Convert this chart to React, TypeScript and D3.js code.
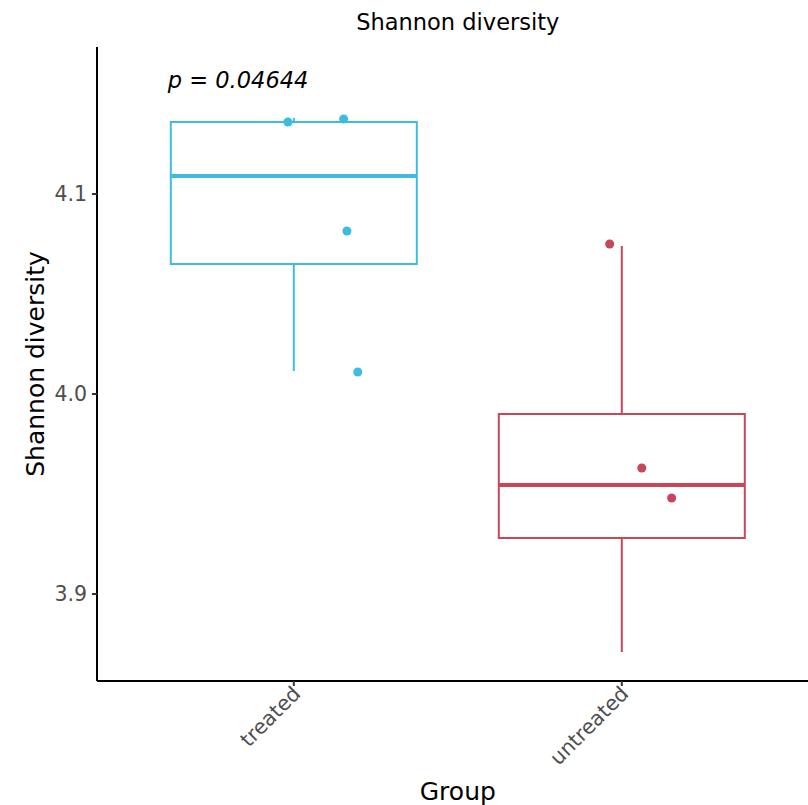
import * as d3 from "d3";

const groups = ["treated", "untreated"];
const colors = ["#3BBDE0", "#C8465A"];

// box statistics
const q1 = [4.065, 3.928];
const medians = [4.109, 3.9545];
const q3 = [4.136, 3.99];
const whiskerLow = [4.0115, 3.871];
const whiskerHigh = [4.138, 4.074];

// jittered points: group index, horizontal jitter (in category units), value
const pointGroup = [0, 0, 0, 0, 1, 1, 1];
const pointJitter = [-0.018, 0.152, 0.162, 0.195, -0.037, 0.061, 0.152];
const pointValue = [4.136, 4.1375, 4.0815, 4.011, 4.075, 3.963, 3.948];

const yTicks = [3.9, 4.0, 4.1];
const pLabel = "p = 0.04644";

const W = 808;
const H = 805;
const left = 97;
const top = 47;
const bottom = 681;
const step = 328;

export default function App() {
  const x = d3.scaleLinear().domain([0.4, 2.6]).range([left, left + 2.2 * step]);
  const y = d3.scaleLinear().domain([4.1735, 3.8565]).range([top, bottom]);
  const boxHalf = 0.375;
  const font = "DejaVu Sans, sans-serif";

  return (
    <svg width={W} height={H} style={{ position: "absolute", left: 0, top: 0, background: "#fff" }} fontFamily={font}>
      <text x={(left + x(2.6)) / 2} y={30} textAnchor="middle" fontSize={22.5} fill="#000">
        Shannon diversity
      </text>

      {groups.map((g, i) => {
        const cx = x(i + 1);
        return (
          <g key={g} stroke={colors[i]} fill="none">
            <line x1={cx} x2={cx} y1={y(q3[i])} y2={y(whiskerHigh[i])} strokeWidth={2} />
            <line x1={cx} x2={cx} y1={y(q1[i])} y2={y(whiskerLow[i])} strokeWidth={2} />
            <rect
              x={x(i + 1 - boxHalf)}
              y={y(q3[i])}
              width={x(i + 1 + boxHalf) - x(i + 1 - boxHalf)}
              height={y(q1[i]) - y(q3[i])}
              fill="#fff"
              strokeWidth={2}
            />
            <line x1={x(i + 1 - boxHalf)} x2={x(i + 1 + boxHalf)} y1={y(medians[i])} y2={y(medians[i])} strokeWidth={4} />
          </g>
        );
      })}

      {pointValue.map((v, k) => (
        <circle key={k} cx={x(pointGroup[k] + 1 + pointJitter[k])} cy={y(v)} r={4.5} fill={colors[pointGroup[k]]} />
      ))}

      <text x={x(0.616)} y={88} fontSize={22.5} fontStyle="italic" fill="#000">
        {pLabel}
      </text>

      {/* axes */}
      <line x1={left} x2={left} y1={top} y2={bottom} stroke="#000" strokeWidth={2} />
      <line x1={left} x2={W} y1={bottom} y2={bottom} stroke="#000" strokeWidth={2} />
      {yTicks.map((t) => (
        <g key={t}>
          <line x1={left - 5} x2={left} y1={y(t)} y2={y(t)} stroke="#333" strokeWidth={2} />
          <text x={left - 10} y={y(t)} dy="0.36em" textAnchor="end" fontSize={20.5} fill="#4D4D4D">
            {d3.format(".1f")(t)}
          </text>
        </g>
      ))}
      {groups.map((g, i) => (
        <g key={g}>
          <line x1={x(i + 1)} x2={x(i + 1)} y1={bottom} y2={bottom + 5} stroke="#333" strokeWidth={2} />
          <text
            transform={`translate(${x(i + 1) + 8},${bottom + 14}) rotate(-45)`}
            textAnchor="end"
            fontSize={20.5}
            fill="#4D4D4D"
          >
            {g}
          </text>
        </g>
      ))}
      <text x={(left + x(2.6)) / 2} y={800} textAnchor="middle" fontSize={25} fill="#000">
        Group
      </text>
      <text transform={`translate(44,${(top + bottom) / 2}) rotate(-90)`} textAnchor="middle" fontSize={25} fill="#000">
        Shannon diversity
      </text>
    </svg>
  );
}
